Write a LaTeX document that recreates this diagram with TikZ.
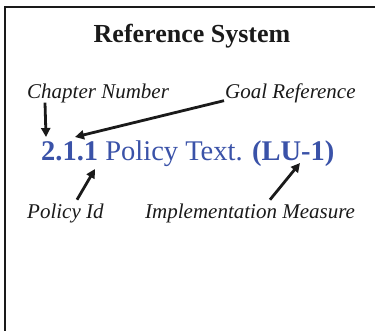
\documentclass[tikz,border=0pt]{standalone}
\usepackage{fontspec}
\setmainfont{Liberation Serif}
\usetikzlibrary{arrows.meta}
\definecolor{polblue}{RGB}{58,82,168}
\definecolor{ink}{RGB}{26,26,26}
\tikzset{
  lbl/.style={font=\fontsize{21}{24}\selectfont\itshape, text=ink, inner sep=0pt, anchor=base west},
  pointer/.style={draw=ink, line width=2.8pt, -{Triangle[length=9pt,width=9pt]}},
}
\begin{document}
\begin{tikzpicture}[x=1pt,y=-1pt]
\useasboundingbox (0,0) rectangle (375,330);
\draw[ink, line width=2.6pt] (5,340) -- (5,7) -- (385,7);
\node[font=\fontsize{26}{30}\selectfont\bfseries, text=ink, inner sep=0pt, anchor=base] (title) at (192,42.5) {Reference System};
\node[lbl] (chap) at (27,98) {Chapter Number};
\node[lbl] (goal) at (225,98) {Goal Reference};
\node[font=\fontsize{28.5}{32}\selectfont, text=polblue, inner sep=0pt, anchor=base west] (pol) at (41,160) {\textbf{2.1.1} Policy Text. \textbf{(LU-1)}};
\node[lbl] (pid) at (27,218) {Policy Id};
\node[lbl] (impl) at (145,218) {Implementation Measure};
\coordinate (tchap) at (46,137);
\coordinate (tgoal) at (75,137);
\coordinate (tpid) at (95,169);
\coordinate (timpl) at (300,163);
\draw[pointer] ([xshift=18pt]chap.south west) -- (tchap);
\draw[pointer] ([xshift=-1pt,yshift=2pt]goal.south west) -- (tgoal);
\draw[pointer] ([xshift=50pt,yshift=3.5pt]pid.north west) -- (tpid);
\draw[pointer] ([xshift=125pt,yshift=3.5pt]impl.north west) -- (timpl);
\end{tikzpicture}
\end{document}
